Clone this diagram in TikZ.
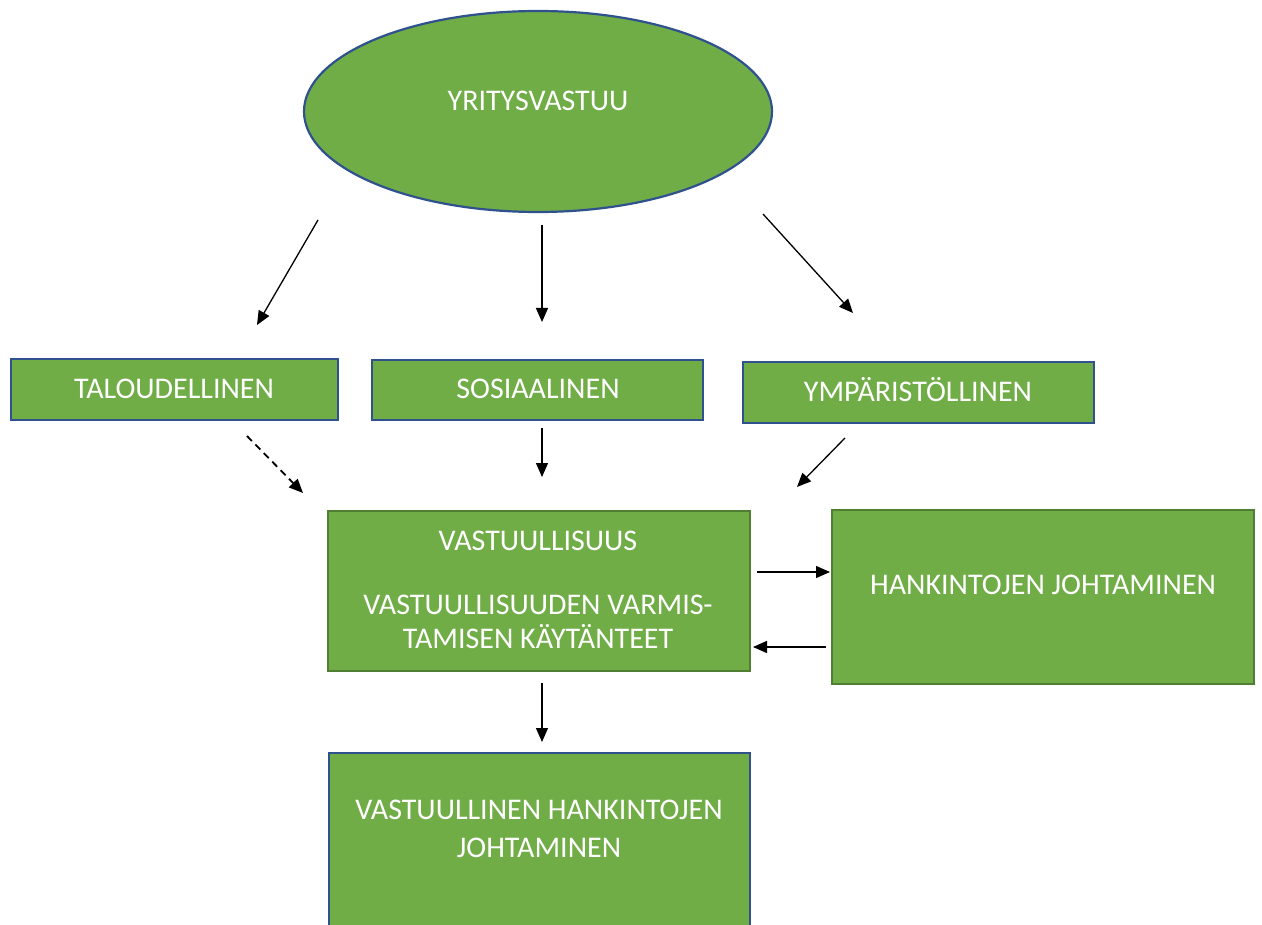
\documentclass[tikz,border=0pt]{standalone}
\usepackage{fontspec}
\setmainfont{Carlito}
\usetikzlibrary{arrows.meta,shapes.geometric}
\definecolor{gfill}{HTML}{70AD47}
\definecolor{bborder}{HTML}{2F528F}
\definecolor{gborder}{HTML}{507E32}
\tikzset{
  box/.style={draw=bborder, line width=2.2pt, fill=gfill, inner sep=0pt},
  gbox/.style={draw=gborder, line width=2.2pt, fill=gfill, inner sep=0pt},
  txt/.style={text=white, inner sep=0pt, text height=19.3pt, text depth=0pt, font=\fontsize{30}{36}\selectfont},
  arr/.style={line width=1.3pt, -{Triangle[length=14pt,width=12pt]}},
}
\begin{document}
\begin{tikzpicture}[x=1pt,y=-1pt]
\useasboundingbox (0,0) rectangle (1262,925);
\clip (0,0) rectangle (1262,925);
% ellipse
\node[ellipse, draw=bborder, line width=2.2pt, fill=gfill, minimum width=468pt, minimum height=201pt, inner sep=0pt] (ys) at (538,111.5) {};
\node[txt] (yst) at (538,101) {YRITYSVASTUU};
% row boxes
\node[box, minimum width=327pt, minimum height=61pt] (tal) at (174.5,389.5) {};
\node[txt] (talt) at (174,389) {TALOUDELLINEN};
\node[box, minimum width=331pt, minimum height=60pt] (sos) at (537.5,390) {};
\node[txt] (sost) at (538,389) {SOSIAALINEN};
\node[box, minimum width=351pt, minimum height=61pt] (ymp) at (918.5,392.5) {};
\node[txt] (ympt) at (918,392) {YMPÄRISTÖLLINEN};
% central box
\node[gbox, minimum width=422pt, minimum height=160pt] (vas) at (539,591) {};
\node[txt] (vast1) at (538,541) {VASTUULLISUUS};
\node[txt] (vast2) at (538,605) {VASTUULLISUUDEN VARMIS-};
\node[txt] (vast3) at (538,639) {TAMISEN KÄYTÄNTEET};
% right box
\node[gbox, minimum width=422pt, minimum height=174pt] (han) at (1043,597) {};
\node[txt] (hant) at (1043,585) {HANKINTOJEN JOHTAMINEN};
% bottom box
\node[box, minimum width=421pt, minimum height=240pt] (vhj) at (539.5,873) {};
\node[txt] (vhjt1) at (539,810) {VASTUULLINEN HANKINTOJEN};
\node[txt] (vhjt2) at (539,848) {JOHTAMINEN};
% arrow end points
\coordinate (a1s) at (318,220); \coordinate (a1e) at (257,325);
\coordinate (a2s) at (542,225); \coordinate (a2e) at (542,322);
\coordinate (a3s) at (763,214); \coordinate (a3e) at (853,313);
\coordinate (b1s) at (247,436); \coordinate (b1e) at (303,493);
\coordinate (b2s) at (542,428); \coordinate (b2e) at (542,477);
\coordinate (b3s) at (845,438); \coordinate (b3e) at (797,487);
\coordinate (c1s) at (757,572); \coordinate (c1e) at (830,572);
\coordinate (c2s) at (826,647); \coordinate (c2e) at (753,647);
\coordinate (d1s) at (542,683); \coordinate (d1e) at (542,742);
\draw[arr] (a1s) -- (a1e);
\draw[arr] (a2s) -- (a2e);
\draw[arr] (a3s) -- (a3e);
\draw[arr, line width=1.8pt, dash pattern=on 7pt off 5pt] (b1s) -- (b1e);
\draw[arr] (b2s) -- (b2e);
\draw[arr] (b3s) -- (b3e);
\draw[arr] (c1s) -- (c1e);
\draw[arr] (c2s) -- (c2e);
\draw[arr] (d1s) -- (d1e);
\end{tikzpicture}
\end{document}
